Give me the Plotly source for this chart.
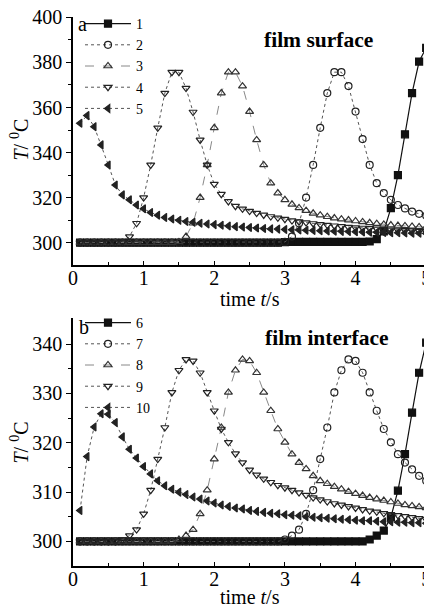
import plotly.graph_objects as go

# time axis (s)
time_s = [0.1, 0.2, 0.3, 0.4, 0.5, 0.6, 0.7, 0.8, 0.9, 1.0,
          1.1, 1.2, 1.3, 1.4, 1.5, 1.6, 1.7, 1.8, 1.9, 2.0,
          2.1, 2.2, 2.3, 2.4, 2.5, 2.6, 2.7, 2.8, 2.9, 3.0,
          3.1, 3.2, 3.3, 3.4, 3.5, 3.6, 3.7, 3.8, 3.9, 4.0,
          4.1, 4.2, 4.3, 4.4, 4.5, 4.6, 4.7, 4.8, 4.9, 5.0]

# (a) film surface temperature, deg C
s1 = [300.0, 300.0, 300.0, 300.0, 300.0, 300.0, 300.0, 300.0, 300.0, 300.0,
      300.0, 300.0, 300.0, 300.0, 300.0, 300.0, 300.0, 300.0, 300.0, 300.0,
      300.0, 300.0, 300.0, 300.0, 300.0, 300.0, 300.0, 300.0, 300.0, 300.2,
      300.3, 300.3, 300.3, 300.3, 300.3, 300.3, 300.3, 300.3, 300.3, 300.3,
      300.3, 300.5, 301.6, 305.0, 315.3, 330.0, 348.1, 366.4, 380.4, 386.5]
s2 = [300.0, 300.0, 300.0, 300.0, 300.0, 300.0, 300.0, 300.0, 300.0, 300.0,
      300.0, 300.0, 300.0, 300.0, 300.0, 300.0, 300.0, 300.0, 300.0, 300.0,
      300.0, 300.0, 300.0, 300.0, 300.0, 300.0, 300.0, 300.0, 300.0, 300.3,
      302.7, 308.6, 320.0, 334.5, 351.0, 366.4, 375.7, 375.7, 369.5, 358.2,
      346.0, 334.5, 326.4, 322.0, 319.0, 316.7, 315.2, 313.8, 312.8, 312.0]
s3 = [300.0, 300.0, 300.0, 300.0, 300.0, 300.0, 300.0, 300.0, 300.0, 300.0,
      300.0, 300.0, 300.0, 300.0, 300.3, 302.7, 308.6, 320.0, 334.5, 351.0,
      366.4, 375.7, 375.7, 369.5, 358.2, 345.6, 334.5, 326.4, 322.0, 319.0,
      317.0, 315.4, 314.2, 313.0, 312.2, 311.5, 310.9, 310.4, 310.0, 309.6,
      309.2, 308.8, 308.4, 308.1, 307.8, 307.6, 307.4, 307.2, 307.0, 306.8]
s4 = [300.0, 300.0, 300.0, 300.0, 300.0, 300.0, 300.3, 302.7, 308.6, 320.0,
      334.5, 351.0, 366.4, 375.7, 375.7, 368.6, 358.0, 345.6, 334.5, 326.0,
      321.5, 318.3, 316.2, 315.0, 314.0, 313.1, 312.3, 311.6, 311.0, 310.4,
      309.8, 309.3, 308.9, 308.5, 308.1, 307.8, 307.5, 307.2, 306.9, 306.7,
      306.5, 306.3, 306.1, 305.9, 305.7, 305.6, 305.4, 305.3, 305.1, 305.0]
s5 = [353.0, 356.4, 351.5, 343.4, 334.5, 325.6, 321.2, 319.0, 316.7, 315.0,
      313.4, 312.2, 311.2, 310.5, 309.9, 309.4, 309.0, 308.6, 308.3, 308.0,
      307.7, 307.4, 307.1, 306.9, 306.7, 306.5, 306.3, 306.1, 306.0, 305.8,
      305.7, 305.6, 305.5, 305.4, 305.3, 305.2, 305.1, 305.0, 304.9, 304.8,
      304.7, 304.6, 304.6, 304.5, 304.4, 304.4, 304.3, 304.2, 304.2, 304.1]

# (b) film interface temperature, deg C
s6 = [300.0, 300.0, 300.0, 300.0, 300.0, 300.0, 300.0, 300.0, 300.0, 300.0,
      300.0, 300.0, 300.0, 300.0, 300.0, 300.0, 300.0, 300.0, 300.0, 300.0,
      300.0, 300.0, 300.0, 300.0, 300.0, 300.0, 300.0, 300.0, 300.0, 300.0,
      300.0, 300.0, 300.0, 300.0, 300.0, 300.0, 300.0, 300.0, 300.0, 300.0,
      300.0, 300.4, 301.2, 302.2, 304.9, 310.3, 317.7, 326.1, 334.2, 340.3]
s7 = [300.0, 300.0, 300.0, 300.0, 300.0, 300.0, 300.0, 300.0, 300.0, 300.0,
      300.0, 300.0, 300.0, 300.0, 300.0, 300.0, 300.0, 300.0, 300.0, 300.0,
      300.0, 300.0, 300.0, 300.0, 300.0, 300.0, 300.0, 300.0, 300.0, 300.4,
      301.2, 302.4, 305.6, 310.4, 316.7, 323.1, 330.2, 334.7, 336.9, 336.6,
      334.2, 330.2, 326.5, 322.8, 320.1, 317.7, 316.0, 314.6, 313.3, 312.3]
s8 = [300.0, 300.0, 300.0, 300.0, 300.0, 300.0, 300.0, 300.0, 300.0, 300.0,
      300.0, 300.0, 300.0, 300.0, 300.4, 301.2, 302.4, 305.6, 310.4, 316.7,
      323.1, 330.2, 334.7, 336.9, 336.6, 334.2, 330.2, 326.5, 322.8, 320.1,
      317.7, 316.0, 314.7, 313.3, 312.3, 311.7, 311.1, 310.6, 310.1, 309.7,
      309.3, 308.9, 308.6, 308.3, 308.0, 307.7, 307.4, 307.2, 307.0, 306.8]
s9 = [300.0, 300.0, 300.0, 300.0, 300.0, 300.0, 300.4, 301.2, 302.4, 305.6,
      310.4, 316.7, 323.1, 330.2, 334.7, 336.9, 336.6, 334.2, 330.2, 326.5,
      322.8, 320.1, 317.8, 316.0, 314.5, 313.5, 312.7, 312.0, 311.4, 310.9,
      310.4, 309.9, 309.4, 308.9, 308.5, 308.1, 307.7, 307.4, 307.1, 306.8,
      306.5, 306.2, 306.0, 305.7, 305.5, 305.3, 305.1, 304.9, 304.7, 304.5]
s10 = [306.3, 317.2, 323.2, 325.9, 325.8, 324.1, 321.2, 318.7, 316.9, 315.2,
       313.7, 312.3, 311.3, 310.6, 310.0, 309.5, 309.0, 308.6, 308.2, 307.8,
       307.4, 307.1, 306.8, 306.6, 306.3, 306.1, 305.9, 305.7, 305.6, 305.4,
       305.3, 305.2, 305.0, 304.9, 304.8, 304.7, 304.6, 304.5, 304.4, 304.3,
       304.2, 304.2, 304.1, 304.0, 304.0, 303.9, 303.9, 303.8, 303.8, 303.7]

top_names = ["1", "2", "3", "4", "5"]
bot_names = ["6", "7", "8", "9", "10"]
top_series = [s1, s2, s3, s4, s5]
bot_series = [s6, s7, s8, s9, s10]

SERIF = "Liberation Serif, Times New Roman, serif"
# page is 432x609; the figure div sits at the default 8px body margin
OFF = 8
W, H = 432 - OFF, 609 - OFF

styles = [
    dict(symbol="square", color="#111111", lcolor="#111111", dash="solid", lw=1.2),
    dict(symbol="circle-open", color="#222222", lcolor="#555555", dash="dot", lw=1.0),
    dict(symbol="triangle-up-open", color="#333333", lcolor="#888888", dash="dash", lw=1.0),
    dict(symbol="triangle-down-open", color="#222222", lcolor="#555555", dash="dot", lw=1.0),
    dict(symbol="triangle-left", color="#222222", lcolor="#555555", dash="dot", lw=1.0),
]

fig = go.Figure()

def add_group(names, series, xa, ya, legend):
    for name, ys, st in zip(names, series, styles):
        fig.add_trace(go.Scatter(
            x=time_s, y=ys, name=name, mode="lines+markers",
            xaxis=xa, yaxis=ya, legend=legend,
            line=dict(color=st["lcolor"], dash=st["dash"], width=st["lw"]),
            marker=dict(symbol=st["symbol"], size=7, color=st["color"],
                        line=dict(color=st["color"], width=1.2)),
        ))

add_group(top_names, top_series, "x", "y", "legend")
add_group(bot_names, bot_series, "x2", "y2", "legend2")

def px_x(p):
    return (p - OFF) / W

def px_y(p):
    return 1 - (p - OFF) / H

xdom = [px_x(73), px_x(429)]
axis_common = dict(
    showline=True, linecolor="black", linewidth=1.5, mirror=False, automargin=False,
    showgrid=False, zeroline=False, tickwidth=1.3, ticklabeloverflow="allow",
    tickcolor="black", tickfont=dict(family=SERIF, size=20, color="black"),
)
x_common = dict(ticks="inside", ticklen=4, ticklabelstandoff=-6,
                minor=dict(tickvals=[0.5, 1.5, 2.5, 3.5, 4.5], ticklen=3, ticks="inside", tickcolor="black"),
                tickvals=[0, 1, 2, 3, 4, 5], range=[0, 5.04], domain=xdom)

legend_common = dict(xanchor="left", yanchor="top", bgcolor="rgba(0,0,0,0)",
                     font=dict(family=SERIF, size=14, color="black"),
                     itemwidth=46, tracegroupgap=0, borderwidth=0)

fig.update_layout(
    template="none",
    width=W, height=H, margin=dict(l=0, r=0, t=0, b=0, pad=0), autosize=False,
    font=dict(family=SERIF, size=20, color="black"),
    paper_bgcolor="white", plot_bgcolor="white", showlegend=True,
    xaxis=dict(anchor="y", **x_common, **axis_common),
    yaxis=dict(domain=[px_y(264), px_y(15)], range=[290, 400.2], anchor="x",
               ticks="outside", ticklen=5,
               tickvals=[300, 320, 340, 360, 380, 400],
               minor=dict(tickvals=[310, 330, 350, 370, 390], ticklen=3, ticks="outside", tickcolor="black"),
               **axis_common),
    xaxis2=dict(anchor="y2", **x_common, **axis_common),
    yaxis2=dict(domain=[px_y(566), px_y(317)], range=[295, 345.3], anchor="x2",
                ticks="outside", ticklen=5,
                tickvals=[300, 310, 320, 330, 340],
                minor=dict(tickvals=[305, 315, 325, 335], ticklen=3, ticks="outside", tickcolor="black"),
                **axis_common),
    legend=dict(x=px_x(80), y=px_y(6), **legend_common),
    legend2=dict(x=px_x(80), y=px_y(306), **legend_common),
)

def note(text, x, y, size=20, angle=0, bold=False):
    if bold:
        text = "<b>" + text + "</b>"
    fig.add_annotation(text=text, x=px_x(x), y=px_y(y), xref="paper", yref="paper",
                       showarrow=False, textangle=angle, xanchor="center", yanchor="middle",
                       font=dict(family=SERIF, size=size, color="black"))

note("a", 82, 22)
note("b", 84, 326)
note("film surface", 318, 38, size=21.5, bold=True)
note("film interface", 327, 337, size=21.5, bold=True)
note("time <i>t</i>/s", 250, 298)
note("time <i>t</i>/s", 250, 597)
note("<i>T</i>/ <sup>0</sup>C", 19, 138, angle=-90)
note("<i>T</i>/ <sup>0</sup>C", 19, 442, angle=-90)

fig.write_html("out.html")
